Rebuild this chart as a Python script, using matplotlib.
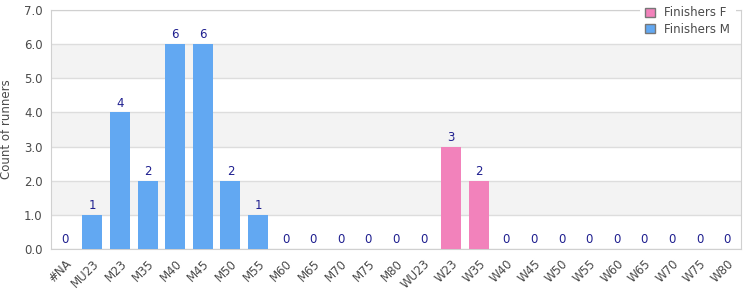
"""
Finishers by age category bar chart
"""

import matplotlib.pyplot as plt
from matplotlib.patches import Patch
from matplotlib.ticker import FormatStrFormatter

CATEGORIES = ["#NA", "MU23", "M23", "M35", "M40", "M45", "M50", "M55", "M60",
              "M65", "M70", "M75", "M80", "WU23", "W23", "W35", "W40", "W45",
              "W50", "W55", "W60", "W65", "W70", "W75", "W80"]
FINISHERS_M = [0, 1, 4, 2, 6, 6, 2, 1, 0, 0, 0, 0, 0, 0, 0, 0,
               0, 0, 0, 0, 0, 0, 0, 0, 0]
FINISHERS_F = [0, 0, 0, 0, 0, 0, 0, 0, 0, 0, 0, 0, 0, 0, 3, 2,
               0, 0, 0, 0, 0, 0, 0, 0, 0]

BLUE = '#62a8f2'
PINK = '#f282bb'
LABEL_COLOR = '#1f1f8f'
TEXT_COLOR = '#4a4a4a'
GRID_COLOR = '#dddddd'

fig = plt.figure(figsize=(7.5, 3.0), dpi=100)
ax = fig.add_axes([0.068, 0.17, 0.92, 0.797])

xs = list(range(len(CATEGORIES)))
ax.bar(xs, FINISHERS_M, width=0.72, color=BLUE, zorder=3)
ax.bar(xs, FINISHERS_F, width=0.72, color=PINK, bottom=FINISHERS_M, zorder=3)

for x, m, f in zip(xs, FINISHERS_M, FINISHERS_F):
    ax.text(x, m + f + 0.08, str(m + f), ha='center', va='bottom',
            fontsize=8.5, color=LABEL_COLOR, zorder=4)

# alternating bands
for lo in (1, 3, 5):
    ax.axhspan(lo, lo + 1, color='#f3f3f3', zorder=0, lw=0)

ax.set_xlim(-0.5, len(CATEGORIES) - 0.5)
ax.set_ylim(0, 7)
ax.set_yticks(range(8))
ax.yaxis.set_major_formatter(FormatStrFormatter('%.1f'))
ax.grid(axis='y', color=GRID_COLOR, linewidth=1, zorder=1)
ax.set_xticks(xs)
ax.set_xticklabels(CATEGORIES, rotation=45, ha='right', rotation_mode='anchor')
ax.tick_params(axis='both', length=0, labelsize=8.5, colors=TEXT_COLOR, pad=6)
ax.set_ylabel("Count of runners", fontsize=8.5, color=TEXT_COLOR)
ax.yaxis.set_label_coords(-0.055, 0.5)
for spine in ax.spines.values():
    spine.set_color('#d0d0d0')

handles = [Patch(facecolor=PINK, edgecolor='#777777', label='Finishers F'),
           Patch(facecolor=BLUE, edgecolor='#777777', label='Finishers M')]
legend = ax.legend(handles=handles, loc='upper right', bbox_to_anchor=(0.998, 1.055),
                   fontsize=8.5, frameon=True, handlelength=0.8, handleheight=0.8,
                   labelspacing=0.3, borderpad=0.3, handletextpad=0.8)
legend.get_frame().set_facecolor('white')
legend.get_frame().set_edgecolor('none')
legend.get_frame().set_alpha(1)
legend.get_frame().set_boxstyle('square', pad=0.2)
for t in legend.get_texts():
    t.set_color(TEXT_COLOR)

plt.savefig("out.png", dpi=100)
